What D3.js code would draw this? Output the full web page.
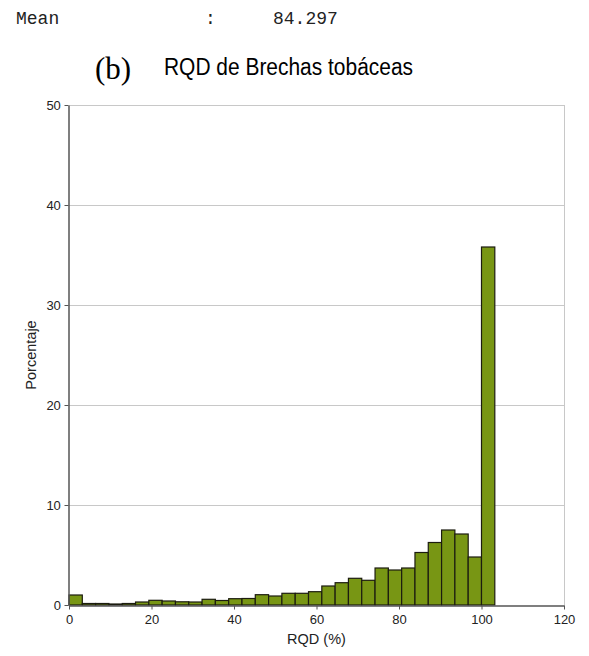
<!DOCTYPE html>
<html>
<head>
<meta charset="utf-8">
<script src="https://cdn.jsdelivr.net/npm/d3@7"></script>
<style>
  html, body { margin: 0; padding: 0; background: #fff; }
  svg { display: block; }
</style>
</head>
<body>
<svg id="chart" width="589" height="656"></svg>
<script>
// Histogram of RQD (%) for tuff breccias: 32 equal bins from 0 to ~103.2
const binCount = 32;
const binMax = 103.226;
const percentages = [
  1.0, 0.15, 0.15, 0.1, 0.15, 0.3, 0.47, 0.4, 0.32, 0.3,
  0.57, 0.45, 0.63, 0.65, 1.03, 0.9, 1.17, 1.17, 1.33, 1.9,
  2.23, 2.67, 2.47, 3.7, 3.5, 3.7, 5.25, 6.25, 7.5, 7.1,
  4.8, 35.8
];
const xTicks = [0, 20, 40, 60, 80, 100, 120];
const yTicks = [0, 10, 20, 30, 40, 50];
const meanValue = "84.297";

const binWidth = binMax / binCount;
const bins = percentages.map((v, i) => ({ x0: i * binWidth, x1: (i + 1) * binWidth, value: v }));

const svg = d3.select("#chart");
const margin = { left: 69, right: 25, top: 105, bottom: 51 };
const W = 589, H = 656;

const x = d3.scaleLinear().domain([0, 120]).range([margin.left, W - margin.right]);
const y = d3.scaleLinear().domain([0, 50]).range([H - margin.bottom, margin.top]);

const mono = "'Liberation Mono', 'DejaVu Sans Mono', monospace";
const sans = "'Liberation Sans', Arial, sans-serif";

// Header line with the mean value
[["Mean", 16], [":", 205], [meanValue, 273]].forEach(([t, px]) => {
  svg.append("text")
    .attr("x", px).attr("y", 24)
    .attr("font-family", mono)
    .attr("font-size", 18).attr("fill", "#222")
    .text(t);
});

// Panel label and title
svg.append("text")
  .attr("x", 95).attr("y", 79)
  .attr("font-family", "'Liberation Serif', 'DejaVu Serif', serif")
  .attr("font-size", 31).attr("fill", "#000")
  .text("(b)");
svg.append("text")
  .attr("x", 164).attr("y", 75)
  .attr("font-family", sans)
  .attr("font-size", 23).attr("fill", "#000")
  .attr("textLength", 249).attr("lengthAdjust", "spacingAndGlyphs")
  .text("RQD de Brechas tobáceas");

// Horizontal gridlines
svg.append("g")
  .selectAll("line")
  .data(yTicks.filter(t => t > 0))
  .join("line")
  .attr("x1", x(0)).attr("x2", x(120))
  .attr("y1", d => y(d) + 0.5).attr("y2", d => y(d) + 0.5)
  .attr("stroke", "#c8c8c8").attr("stroke-width", 1);

// Right frame line
svg.append("line")
  .attr("x1", x(120) + 0.5).attr("x2", x(120) + 0.5)
  .attr("y1", y(50)).attr("y2", y(0))
  .attr("stroke", "#c8c8c8").attr("stroke-width", 1);

// Bars
svg.append("g")
  .selectAll("rect")
  .data(bins)
  .join("rect")
  .attr("x", d => x(d.x0))
  .attr("width", d => x(d.x1) - x(d.x0))
  .attr("y", d => y(d.value))
  .attr("height", d => y(0) - y(d.value))
  .attr("fill", "#789614")
  .attr("stroke", "#1c1c10")
  .attr("stroke-width", 1.2);

// Axes
const xAxis = svg.append("g")
  .attr("transform", `translate(0,${y(0) + 0.5})`)
  .call(d3.axisBottom(x).tickValues(xTicks).tickSize(4).tickSizeOuter(0));
const yAxis = svg.append("g")
  .attr("transform", `translate(${x(0) - 0.5},0)`)
  .call(d3.axisLeft(y).tickValues(yTicks).tickSize(4).tickSizeOuter(0));

[xAxis, yAxis].forEach(g => {
  g.select(".domain").attr("stroke", "#555").attr("stroke-width", 1.5);
  g.selectAll(".tick line").attr("stroke", "#555");
  g.selectAll(".tick text")
    .attr("font-family", sans)
    .attr("font-size", 13).attr("fill", "#222");
});
xAxis.selectAll(".tick text").attr("dy", "0.9em");
yAxis.selectAll(".tick text").attr("dx", "-0.05em");

// Axis titles
svg.append("text")
  .attr("x", (x(0) + x(120)) / 2).attr("y", 644)
  .attr("text-anchor", "middle")
  .attr("font-family", sans)
  .attr("font-size", 14.5).attr("fill", "#222")
  .text("RQD (%)");
svg.append("text")
  .attr("transform", `translate(36,${(y(0) + y(50)) / 2}) rotate(-90)`)
  .attr("text-anchor", "middle")
  .attr("font-family", sans)
  .attr("font-size", 14.5).attr("fill", "#222")
  .text("Porcentaje");
</script>
</body>
</html>
